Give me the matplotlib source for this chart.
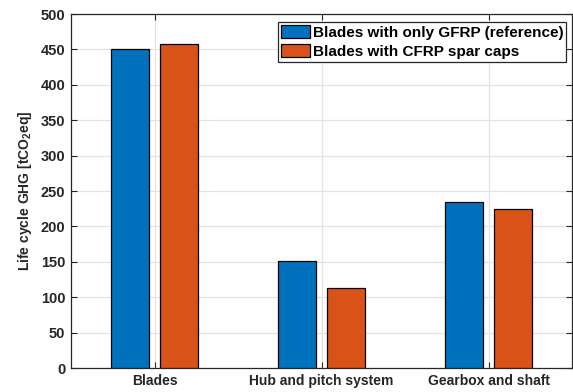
import matplotlib
matplotlib.use("Agg")
import matplotlib.pyplot as plt
import numpy as np

# data
categories = ["Blades", "Hub and pitch system", "Gearbox and shaft"]
series_names = ["Blades with only GFRP (reference)", "Blades with CFRP spar caps"]
gfrp_vals = [450, 151.5, 235]
cfrp_vals = [458, 113.5, 225]
yticks = [0, 50, 100, 150, 200, 250, 300, 350, 400, 450, 500]

plt.rcParams['font.family'] = ['Liberation Sans', 'DejaVu Sans']
plt.rcParams['font.weight'] = 'bold'
plt.rcParams['mathtext.default'] = 'regular'

dark = '#262626'
blue = '#0072BD'
orange = '#D95319'

fig = plt.figure(figsize=(5.73, 3.92), dpi=100)
ax = fig.add_axes([71/573, 24/392, 501/573, 354/392])

x = np.arange(1, len(categories) + 1)
w = 0.23
off = 0.145
ax.bar(x - off, gfrp_vals, w, color=blue, edgecolor='black', linewidth=0.9,
       label=series_names[0], zorder=3)
ax.bar(x + off, cfrp_vals, w, color=orange, edgecolor='black', linewidth=0.9,
       label=series_names[1], zorder=3)

ax.set_xlim(0.5, 3.5)
ax.set_ylim(0, 500)
ax.set_xticks(x)
ax.set_xticklabels(categories)
ax.set_yticks(yticks)
ax.grid(True, color='#e3e3e3', linewidth=0.9, zorder=0)
ax.set_axisbelow(True)

ax.tick_params(direction='in', top=True, right=True, length=4, width=0.8,
               colors=dark, labelsize=10.5, pad=4)
ax.tick_params(axis='x', labelsize=10)
for lab in ax.get_xticklabels() + ax.get_yticklabels():
    lab.set_fontweight('bold')
for s in ax.spines.values():
    s.set_color(dark)
    s.set_linewidth(0.9)

ax.set_ylabel('Life cycle GHG [tCO$_2$eq]', fontsize=10, fontweight='bold',
              color=dark, labelpad=5)

leg = ax.legend(loc='upper right', bbox_to_anchor=(0.989, 0.978),
                borderaxespad=0, fancybox=False, framealpha=1,
                edgecolor=dark, fontsize=11, handlelength=1.9,
                handleheight=0.95, handletextpad=0.2, labelspacing=0.3,
                borderpad=0.2)
leg.get_frame().set_linewidth(0.9)
for t in leg.get_texts():
    t.set_fontweight('bold')

fig.savefig('out.png', dpi=100)
